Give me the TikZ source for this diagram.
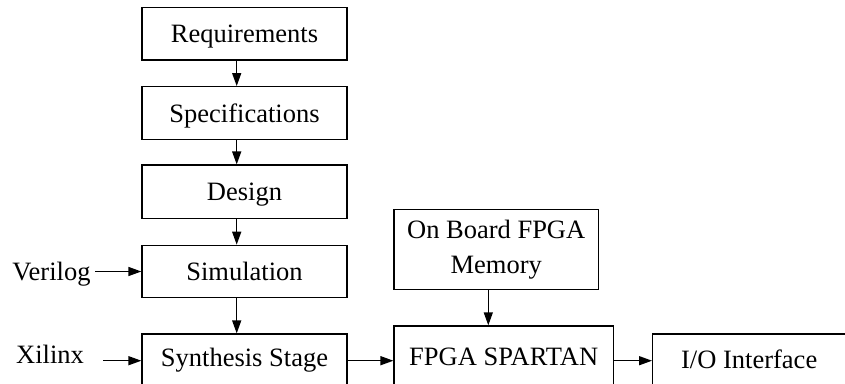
\documentclass[tikz,border=0pt]{standalone}
\usepackage{fontspec}
\setmainfont{Liberation Serif}
\usetikzlibrary{arrows.meta}
\begin{document}
\begin{tikzpicture}[x=1pt,y=-1pt,
  plainbox/.style={draw,line width=1.3pt,rectangle,inner sep=0pt,font=\fontsize{26.5}{35}\selectfont,align=center},
  box/.style={plainbox,text height=18pt,text depth=0pt},
  lbl/.style={inner sep=0pt,font=\fontsize{26.5}{35}\selectfont,anchor=base},
  arr/.style={line width=1.4pt,-{Triangle[length=13pt,width=9pt]}}]
\useasboundingbox (0,0) rectangle (845,383);
\clip (0,0) rectangle (845,383);
\node[box,minimum width=205pt,minimum height=52.7pt] (req) at (244.5,33.7) {Requirements};
\node[box,minimum width=205pt,minimum height=52.6pt] (spec) at (244.5,113) {Specifications};
\node[box,minimum width=205pt,minimum height=53.3pt] (des) at (244.5,191.7) {Design};
\node[box,minimum width=205pt,minimum height=52pt] (sim) at (244.5,271.3) {Simulation};
\node[box,minimum width=205pt,minimum height=58pt,text depth=10.6pt] (syn) at (244.5,363) {Synthesis Stage};
\node[plainbox,minimum width=204.3pt,minimum height=80pt] (onb) at (496.2,249.3) {On Board FPGA\\Memory};
\node[box,minimum width=219.3pt,minimum height=70pt,text depth=10pt] (fpga) at (503.7,361) {FPGA SPARTAN};
\node[box,minimum width=193pt,minimum height=58pt,text depth=7.4pt] (io) at (749.2,363) {I/O Interface};
\node[lbl] (ver) at (51.5,280) {Verilog};
\node[lbl] (xil) at (50,363) {Xilinx};
\coordinate (ax) at (236.7,0);
\coordinate (bx) at (488.3,0);
\coordinate (ys) at (0,360.7);
\coordinate (xs) at (103,360.7);
\coordinate (vs) at (95,271.5);
\draw[arr] (req.south -| ax) -- (spec.north -| ax);
\draw[arr] (spec.south -| ax) -- (des.north -| ax);
\draw[arr] (des.south -| ax) -- (sim.north -| ax);
\draw[arr] (sim.south -| ax) -- (syn.north -| ax);
\draw[arr] (vs) -- (sim.west |- vs);
\draw[arr] (xs) -- (syn.west |- xs);
\draw[arr] (syn.east |- ys) -- (fpga.west |- ys);
\draw[arr] (fpga.east |- ys) -- (io.west |- ys);
\draw[arr] (onb.south -| bx) -- (fpga.north -| bx);
\end{tikzpicture}
\end{document}
